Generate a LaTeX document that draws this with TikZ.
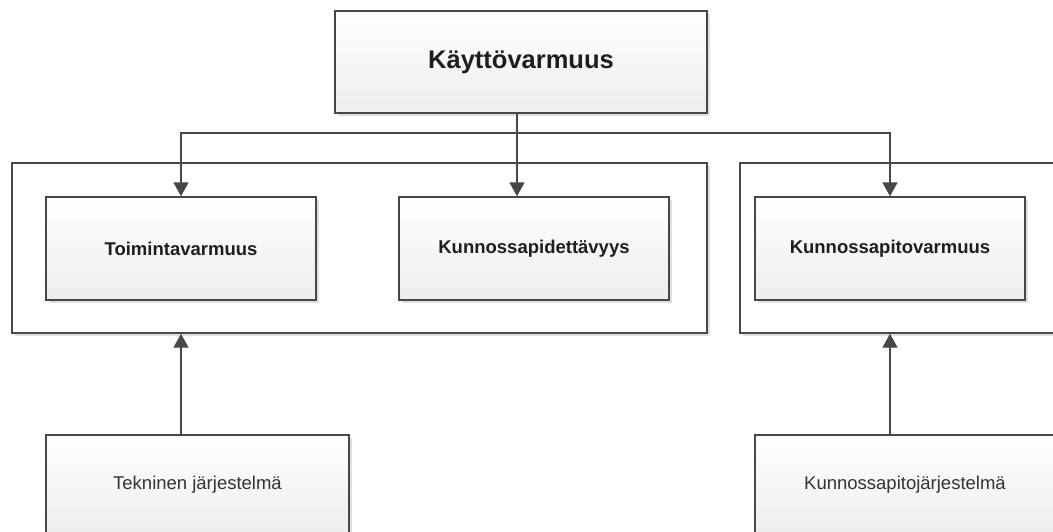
\documentclass[tikz,border=0pt]{standalone}
\usepackage{fontspec}
\setmainfont{Liberation Sans}
\usepackage{tikz}
\usetikzlibrary{arrows.meta,positioning,calc,shadows}
\definecolor{linec}{HTML}{474747}
\definecolor{textc}{HTML}{1E1E1E}
\tikzstyle{boxbase}=[draw=linec,line width=1.4pt,inner sep=0pt,
  drop shadow={shadow xshift=2.5pt,shadow yshift=-2.5pt,fill=black,opacity=0.12}]
\tikzstyle{grp}=[boxbase,fill=white]
\tikzstyle{item}=[boxbase,top color=white,bottom color=black!7,
  minimum width=270pt,minimum height=103pt,text=textc,
  font=\fontsize{18.5}{22}\selectfont\bfseries]
\tikzstyle{src}=[item,minimum height=100pt,text=black!80,
  font=\fontsize{18.5}{22}\selectfont]
\tikzstyle{arr}=[draw=linec,line width=1.4pt,-{Triangle[width=15pt,length=14pt]}]

\begin{document}
\begin{tikzpicture}[x=1pt,y=-1pt]
  \useasboundingbox (0,0) rectangle (1053,531);
  \clip (0,0) rectangle (1053,531);
  % groups
  \node[grp,minimum width=695pt,minimum height=170pt] (grpL) at (359.5,248) {};
  \node[grp,minimum width=330pt,minimum height=170pt] (grpR) at (905,248) {};
  % top
  \node[item,minimum width=372pt,minimum height=102pt,
    font=\fontsize{25.5}{30}\selectfont\bfseries] (kv) at (521,62) {Käyttövarmuus};
  % inner boxes
  \node[item] (toim) at (181,248.5) {Toimintavarmuus};
  \node[item] (kunn) at (534,248.5) {Kunnossapidettävyys};
  \node[item] (kpv) at (890,248.5) {Kunnossapitovarmuus};
  % sources
  \node[src,minimum width=303pt] (tek) at (197.5,485) {Tekninen järjestelmä};
  \node[src,minimum width=300pt] (kpj) at (905,485) {Kunnossapitojärjestelmä};
  % connectors
  \coordinate (split) at (517,133);
  \draw[draw=linec,line width=1.4pt] (split |- kv.south) -- (split);
  \draw[arr] (split) -| (toim.north);
  \draw[arr] (split) -- (split |- kunn.north);
  \draw[arr] (split) -| (kpv.north);
  \draw[arr] (toim.center |- tek.north) -- (toim.center |- grpL.south);
  \draw[arr] (kpv.center |- kpj.north) -- (kpv.center |- grpR.south);
\end{tikzpicture}
\end{document}
